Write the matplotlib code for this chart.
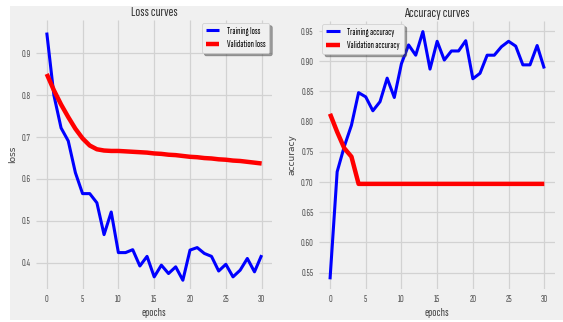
import matplotlib
matplotlib.use("Agg")
import matplotlib.pyplot as plt
from matplotlib.patches import Rectangle

plt.style.use("fivethirtyeight")
NARROW = ['Sofia Sans Extra Condensed', 'Saira ExtraCondensed', 'DejaVu Sans']
plt.rcParams['font.family'] = NARROW

epochs = list(range(31))
train_loss = [0.95, 0.80, 0.722, 0.691, 0.615, 0.565, 0.565, 0.543, 0.467, 0.521,
              0.424, 0.424, 0.431, 0.392, 0.415, 0.366, 0.394, 0.374, 0.390, 0.358,
              0.430, 0.436, 0.422, 0.415, 0.380, 0.396, 0.366, 0.382, 0.410, 0.378, 0.418]
val_loss = [0.851, 0.812, 0.778, 0.748, 0.720, 0.697, 0.680, 0.671, 0.668, 0.667,
            0.667, 0.666, 0.665, 0.664, 0.663, 0.661, 0.660, 0.658, 0.657, 0.655,
            0.653, 0.652, 0.650, 0.649, 0.647, 0.646, 0.644, 0.643, 0.641, 0.639, 0.637]
train_acc = [0.539, 0.717, 0.759, 0.794, 0.848, 0.841, 0.818, 0.833, 0.872, 0.840,
             0.896, 0.927, 0.910, 0.949, 0.887, 0.933, 0.902, 0.917, 0.917, 0.934,
             0.871, 0.880, 0.910, 0.910, 0.924, 0.933, 0.925, 0.894, 0.894, 0.926, 0.888]
val_acc = [0.813, 0.783, 0.756, 0.742, 0.697, 0.697, 0.697, 0.697, 0.697, 0.697,
           0.697, 0.697, 0.697, 0.697, 0.697, 0.697, 0.697, 0.697, 0.697, 0.697,
           0.697, 0.697, 0.697, 0.697, 0.697, 0.697, 0.697, 0.697, 0.697, 0.697, 0.697]
epoch_ticks = [0, 5, 10, 15, 20, 25, 30]
loss_ticks = [0.4, 0.5, 0.6, 0.7, 0.8, 0.9]
acc_ticks = [0.55, 0.60, 0.65, 0.70, 0.75, 0.80, 0.85, 0.90, 0.95]

W, H = 563, 322
fig = plt.figure(figsize=(W / 100, H / 100), dpi=100)
fig.patch.set_facecolor('white')
fig.patches.append(Rectangle((10 / W, 2 / H), 1 - 10 / W, 1 - 8 / H,
                             transform=fig.transFigure, facecolor='#f0f0f0',
                             edgecolor='none', zorder=-10))

ax1 = fig.add_axes([36 / W, (H - 289) / H, 236.4 / W, 269 / H])
ax2 = fig.add_axes([319.3 / W, (H - 289) / H, 235.7 / W, 268 / H])

for ax in (ax1, ax2):
    ax.set_facecolor('#f0f0f0')
    ax.grid(True, color='#d2d2d2', linewidth=0.9)
    ax.tick_params(labelsize=7.5, colors='#555555', length=0, pad=4)
    for s in ax.spines.values():
        s.set_visible(False)
    ax.set_xticks(epoch_ticks)
    ax.set_xlim(-1.5, 31.5)

ax1.plot(epochs, train_loss, color='#0000ff', lw=2.2, label='Training loss')
ax1.plot(epochs, val_loss, color='#ff0000', lw=3.2, label='Validation loss')
ax1.set_ylim(0.337, 0.98)
ax1.set_yticks(loss_ticks)
ax1.set_yticklabels([f'{v:.1f}' for v in loss_ticks])
ax1.set_title('Loss curves', fontsize=10.5, color='#333333', pad=3)
ax1.set_xlabel('epochs', fontsize=9, color='#444444', labelpad=3)
ax1.set_ylabel('loss', fontsize=6.5, color='#444444', labelpad=3,
               family=['DejaVu Sans'])
ax1.legend(loc='upper right', fontsize=7, frameon=True, shadow=True,
           facecolor='#f0f0f0', edgecolor='#cccccc', handlelength=1.4,
           borderaxespad=0.3, labelspacing=0.45)

ax2.plot(epochs, train_acc, color='#0000ff', lw=2.2, label='Training accuracy')
ax2.plot(epochs, val_acc, color='#ff0000', lw=3.2, label='Validation accuracy')
ax2.set_ylim(0.523, 0.9666)
ax2.set_yticks(acc_ticks)
ax2.set_yticklabels([f'{v:.2f}' for v in acc_ticks])
ax2.set_title('Accuracy curves', fontsize=10.5, color='#333333', pad=3)
ax2.set_xlabel('epochs', fontsize=9, color='#444444', labelpad=3)
ax2.set_ylabel('accuracy', fontsize=6.5, color='#444444', labelpad=3,
               family=['DejaVu Sans'])
ax2.legend(loc='upper left', fontsize=7, frameon=True, shadow=True,
           facecolor='#f0f0f0', edgecolor='#cccccc', handlelength=1.4,
           borderaxespad=0.3, labelspacing=0.45)

fig.savefig('out.png', dpi=100, facecolor=fig.get_facecolor())
